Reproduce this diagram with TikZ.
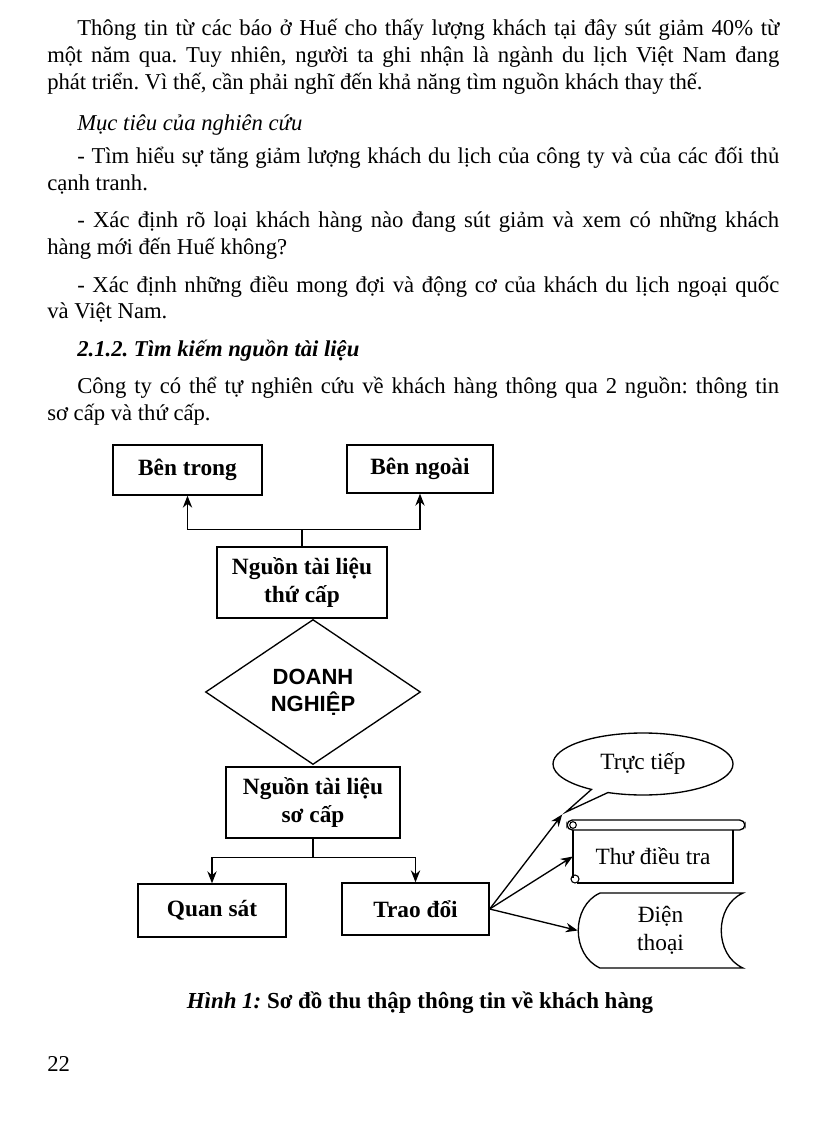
\documentclass[tikz,border=0pt]{standalone}
\usepackage{fontspec}
\setmainfont{Liberation Serif}
\newfontfamily\diagsans{Liberation Sans}
\usetikzlibrary{shapes.geometric,shapes.callouts,arrows.meta}
\newcommand{\indline}[1]{\makebox[526.5pt][s]{#1}}
\newcommand{\fullline}[1]{\makebox[549pt][s]{#1}}
\frenchspacing

\begin{document}
\begin{tikzpicture}[x=0.75pt, y=-0.75pt, >={Stealth[length=9pt,width=7pt]},
  txt/.style={anchor=base west, inner sep=0pt, font=\fontsize{17}{20}\selectfont},
  box/.style={draw, line width=1pt, align=center, inner sep=0pt, font=\fontsize{17.5}{21}\selectfont\bfseries},
  decision/.style={draw, diamond, line width=1pt, align=center, inner sep=0pt, font=\fontsize{16.5}{20}\selectfont\diagsans\bfseries},
  plain/.style={align=center, inner sep=0pt, font=\fontsize{17.5}{21}\selectfont},
  link/.style={line width=1pt, ->}]
  \useasboundingbox[fill=white] (0,0) rectangle (816,1123);

  % Page text
  \node[txt] (par1a) at (77,36) {\indline{Thông tin từ các báo ở Huế cho thấy lượng khách tại đây sút giảm 40\% từ}};
  \node[txt] (par1b) at (47,63) {\fullline{một năm qua. Tuy nhiên, người ta ghi nhận là ngành du lịch Việt Nam đang}};
  \node[txt] (par1c) at (47,90) {phát triển. Vì thế, cần phải nghĩ đến khả năng tìm nguồn khách thay thế.};
  \node[txt] (goal) at (77,131) {\itshape Mục tiêu của nghiên cứu};
  \node[txt] (goal1a) at (77,164) {\indline{- Tìm hiểu sự tăng giảm lượng khách du lịch của công ty và của các đối thủ}};
  \node[txt] (goal1b) at (47,190.5) {cạnh tranh.};
  \node[txt] (goal2a) at (77,228) {\indline{- Xác định rõ loại khách hàng nào đang sút giảm và xem có những khách}};
  \node[txt] (goal2b) at (47,254.5) {hàng mới đến Huế không?};
  \node[txt] (goal3a) at (77,292) {\indline{- Xác định những điều mong đợi và động cơ của khách du lịch ngoại quốc}};
  \node[txt] (goal3b) at (47,318.5) {và Việt Nam.};
  \node[txt] (sect) at (77,356) {\bfseries\itshape 2.1.2. Tìm kiếm nguồn tài liệu};
  \node[txt] (par2a) at (77,393.5) {\indline{Công ty có thể tự nghiên cứu về khách hàng thông qua 2 nguồn: thông tin}};
  \node[txt] (par2b) at (47,420) {sơ cấp và thứ cấp.};

  % Upper part of the chart
  \node[box, minimum width=111.75pt, minimum height=37.5pt] (inside) at (187.5,470) {Bên trong};
  \node[box, minimum width=109.5pt, minimum height=36pt] (outside) at (420,469) {Bên ngoài};
  \node[box, minimum width=127.5pt, minimum height=53.25pt] (secondary) at (302,582.5) {Nguồn tài liệu\\thứ cấp};
  \draw[line width=1pt] (secondary.north) -- ++(0,-17) coordinate (upsplit);
  \draw[link] (upsplit) -| (inside.south);
  \draw[link] (upsplit) -| (outside.south);

  % Centre
  \node[decision, minimum width=161.25pt, minimum height=108.75pt] (firm) at (313,692) {DOANH\\NGHIỆP};

  % Lower part of the chart
  \node[box, minimum width=130.5pt, minimum height=53.25pt] (primary) at (313,802.5) {Nguồn tài liệu\\sơ cấp};
  \node[box, minimum width=111pt, minimum height=39.75pt] (observe) at (212,910.5) {Quan sát};
  \node[box, minimum width=110.25pt, minimum height=39pt] (exchange) at (415.5,909) {Trao đổi};
  \draw[line width=1pt] (primary.south) -- ++(0,19) coordinate (downsplit);
  \draw[link] (downsplit) -| (observe.north);
  \draw[link] (downsplit) -| (exchange.north);

  % Ways of asking
  \node[plain, draw, ellipse callout, line width=1pt, minimum width=135pt, minimum height=46.5pt,
    callout pointer arc=12, callout absolute pointer={(566,812)}] (direct) at (643,764) {Trực tiếp};
  \node[plain, minimum width=120pt, minimum height=39.75pt] (survey) at (653,856.5) {Thư điều tra};
  \draw[line width=1pt, rounded corners=4pt] (567,820) rectangle (745,830);
  \draw[line width=1pt] (573,830) -- (573,878) (577,883) -- (733,883) -- (733,830);
  \draw[line width=0.8pt] (573,825) circle (2.5pt) (575,879) circle (3pt);
  \node[plain, minimum width=123.75pt, minimum height=56.25pt] (phone) at (660.5,930.5) {Điện\\thoại};
  \draw[line width=1pt] (600,893) -- (743,893) .. controls (714,906) and (714,955) .. (743,968)
    -- (600,968) .. controls (571,955) and (571,906) .. (600,893);
  \draw[link] (exchange.east) -- (direct.pointer);
  \draw[link] (exchange.east) -- (survey.west);
  \draw[link] (exchange.east) -- (phone.west);

  % Caption and page number
  \node[font=\fontsize{17.2}{20}\selectfont\bfseries, inner sep=0pt] (caption) at (420,1003) {\itshape Hình 1:\/ \upshape Sơ đồ thu thập thông tin về khách hàng};
  \node[txt] (pageno) at (47,1071) {22};
\end{tikzpicture}
\end{document}
